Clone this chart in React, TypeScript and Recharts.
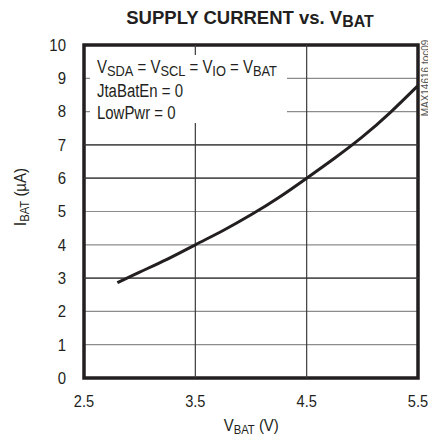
import { LineChart, Line, XAxis, YAxis, CartesianGrid, ReferenceLine, ReferenceArea } from 'recharts'

// supply current (uA) vs. battery voltage (V)
const vbat = [2.8, 3.0, 3.25, 3.5, 3.75, 4.0, 4.25, 4.5, 4.75, 5.0, 5.25, 5.5]
const ibat = [2.86, 3.18, 3.57, 4.0, 4.43, 4.9, 5.42, 6.0, 6.6, 7.24, 7.97, 8.78]

const xTicks = [2.5, 3.5, 4.5, 5.5]
const yTicks = [0, 1, 2, 3, 4, 5, 6, 7, 8, 9, 10]
const darkX = [3.5, 4.5]
const darkY = [3, 6, 7]

const data = vbat.map((v, i) => ({ v, i: ibat[i] }))

const FONT = '"Liberation Sans", Arial, sans-serif'
const INK = '#231f20'

const sub = { fontSize: '0.75em', position: 'relative' as const, top: '0.22em' }
const subBig = { fontSize: '0.86em', position: 'relative' as const, top: '0.2em' }

function YTick({ x, y, payload }: any) {
  return (
    <g transform={`translate(${x},${y}) scale(0.88,1)`}>
      <text x={0} y={0} textAnchor="end" dominantBaseline="central" fontSize={17} fill={INK}>
        {payload.value}
      </text>
    </g>
  )
}

function XTick({ x, y, payload }: any) {
  return (
    <g transform={`translate(${x},${y}) scale(0.86,1)`}>
      <text x={0} y={0} dy="0.71em" textAnchor="middle" fontSize={17} fill={INK}>
        {payload.value}
      </text>
    </g>
  )
}

export default function App() {
  return (
    <div style={{ position: 'absolute', left: 0, top: 0, width: 428, height: 440, overflow: 'hidden', background: '#fff', fontFamily: FONT, color: INK }}>
      <LineChart
        width={428}
        height={440}
        data={data}
        margin={{ top: 45, right: 10, bottom: 0, left: 0 }}
        style={{ fontFamily: FONT }}
      >
        <CartesianGrid horizontal vertical={false} stroke="#8c8c8c" strokeWidth={1.2} />
        <XAxis
          dataKey="v"
          type="number"
          domain={[2.5, 5.5]}
          ticks={xTicks}
          height={62}
          axisLine={false}
          tickLine={false}
          tickSize={0}
          tickMargin={17}
          tick={<XTick />}
          interval={0}
        />
        <YAxis
          type="number"
          domain={[0, 10]}
          ticks={yTicks}
          width={84}
          axisLine={false}
          tickLine={false}
          tickSize={0}
          tickMargin={18}
          tick={<YTick />}
          interval={0}
        />
        {darkX.map((x) => (
          <ReferenceLine key={'x' + x} x={x} stroke="#3a3a3a" strokeWidth={1.2} />
        ))}
        {darkY.map((y) => (
          <ReferenceLine key={'y' + y} y={y} stroke="#3a3a3a" strokeWidth={1.2} />
        ))}
        <Line
          type="natural"
          dataKey="i"
          stroke={INK}
          strokeWidth={3}
          dot={false}
          isAnimationActive={false}
        />
        <ReferenceArea x1={2.5} x2={5.5} y1={0} y2={10} fill="none" fillOpacity={0} stroke={INK} strokeWidth={3.5} />
      </LineChart>

      <div style={{ position: 'absolute', left: 0, width: 500, top: 7, textAlign: 'center', fontWeight: 'bold', fontSize: 18.5 }}>
        SUPPLY CURRENT vs. V<span style={subBig}>BAT</span>
      </div>

      <div style={{ position: 'absolute', left: 90, top: 55, width: 197, height: 68, background: '#fff', fontSize: 18, lineHeight: '22.5px' }}>
        <div
          style={{
            position: 'absolute',
            left: 7,
            top: 1,
            whiteSpace: 'nowrap',
            transform: 'scaleX(0.83)',
            transformOrigin: 'left top',
          }}
        >
          <div>
            V<span style={subBig}>SDA</span> = V<span style={subBig}>SCL</span> = V<span style={subBig}>IO</span> = V<span style={subBig}>BAT</span>
          </div>
          <div>JtaBatEn = 0</div>
          <div>LowPwr = 0</div>
        </div>
      </div>

      <div style={{ position: 'absolute', left: 0, width: 502, top: 416, textAlign: 'center', fontSize: 17 }}>
        <span style={{ display: 'inline-block', transform: 'scaleX(0.88)' }}>
          V<span style={sub}>BAT</span> (V)
        </span>
      </div>

      <div
        style={{
          position: 'absolute',
          left: 21,
          top: 197,
          transform: 'translate(-50%, -50%) rotate(-90deg) scaleX(0.88)',
          whiteSpace: 'nowrap',
          fontSize: 17,
        }}
      >
        I<span style={sub}>BAT</span> (µA)
      </div>

      <div
        style={{
          position: 'absolute',
          left: 425,
          top: 78,
          transform: 'translate(-50%, -50%) rotate(-90deg)',
          whiteSpace: 'nowrap',
          fontSize: 10,
          color: '#555',
        }}
      >
        MAX14616 toc09
      </div>
    </div>
  )
}
